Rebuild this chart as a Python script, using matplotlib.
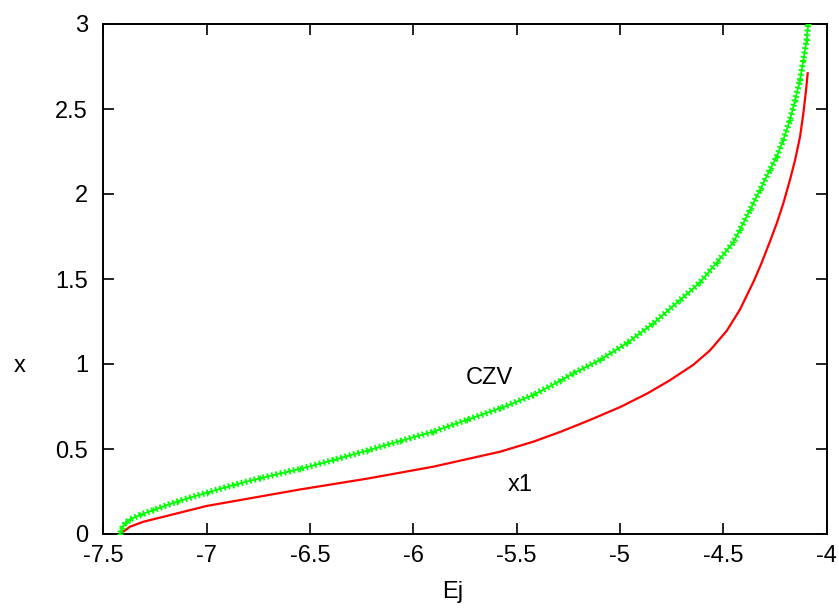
import numpy as np
import matplotlib
matplotlib.use("Agg")
import matplotlib.pyplot as plt
import matplotlib.patheffects as pe

plt.rcParams['font.family'] = ['Liberation Sans', 'DejaVu Sans']

# CZV curve (green)
czv_ej = [-7.420, -7.411, -7.395, -7.371, -7.323, -7.258, -7.145, -7.0, -6.871,
          -6.742, -6.548, -6.387, -6.226, -6.064, -5.903, -5.742, -5.580,
          -5.419, -5.290, -5.226, -5.096, -4.967, -4.838, -4.709, -4.612,
          -4.531, -4.451, -4.419, -4.370, -4.322, -4.274, -4.241, -4.209,
          -4.177, -4.152, -4.128, -4.112, -4.096, -4.089]
czv_x = [0.0, 0.033, 0.063, 0.086, 0.112, 0.141, 0.190, 0.243, 0.288,
         0.328, 0.383, 0.435, 0.490, 0.547, 0.602, 0.671, 0.739,
         0.818, 0.900, 0.945, 1.024, 1.122, 1.239, 1.376, 1.480,
         1.597, 1.715, 1.790, 1.906, 2.024, 2.141, 2.220, 2.318,
         2.435, 2.553, 2.671, 2.788, 2.906, 3.0]

# x1 curve (red)
x1_ej = [-7.415, -7.404, -7.371, -7.307, -7.194, -7.0, -6.790, -6.548, -6.226,
         -5.903, -5.580, -5.419, -5.290, -5.193, -5.129, -5.0, -4.870, -4.757,
         -4.645, -4.564, -4.483, -4.419, -4.351, -4.314, -4.274, -4.241,
         -4.209, -4.177, -4.152, -4.128, -4.112, -4.099, -4.091]
x1_y = [0.0, 0.014, 0.043, 0.072, 0.106, 0.165, 0.210, 0.262, 0.325,
        0.396, 0.484, 0.543, 0.600, 0.647, 0.679, 0.746, 0.825, 0.905,
        0.995, 1.080, 1.195, 1.320, 1.490, 1.595, 1.720, 1.827,
        1.945, 2.082, 2.200, 2.337, 2.475, 2.612, 2.710]

W, H = 839, 608
fig = plt.figure(figsize=(W / 100, H / 100), dpi=100)
ax = fig.add_axes([103.4 / W, 1 - 534 / H, (826.5 - 103.4) / W, (534 - 24) / H])

# dense "+" points drawn as a ticked band along the curve
ax.plot(czv_ej, czv_x, color='#00ff00', lw=1.3, zorder=3,
        path_effects=[pe.TickedStroke(spacing=3.2, angle=90, length=0.5),
                      pe.TickedStroke(spacing=3.2, angle=-90, length=0.5),
                      pe.Normal()])
ax.plot(czv_ej, czv_x, ls='none', marker='+', ms=4, mew=0.9, color='#00ff00', zorder=3)
ax.plot(x1_ej, x1_y, color='#ff0000', lw=1.6, zorder=2)

ax.text(-5.63, 0.92, 'CZV', fontsize=17, ha='center', va='center')
ax.text(-5.48, 0.29, 'x1', fontsize=17, ha='center', va='center')

ax.set_xlim(-7.5, -4)
ax.set_ylim(0, 3)
ax.set_xticks(np.arange(-7.5, -3.99, 0.5))
ax.set_xticklabels(['-7.5', '-7', '-6.5', '-6', '-5.5', '-5', '-4.5', '-4'])
ax.set_yticks(np.arange(0, 3.01, 0.5))
ax.set_yticklabels(['0', '0.5', '1', '1.5', '2', '2.5', '3'])
ax.tick_params(direction='in', length=8, width=1.2, top=True, right=True,
               labelsize=17)
ax.tick_params(axis='x', pad=8)
ax.tick_params(axis='y', pad=11)
for s in ax.spines.values():
    s.set_linewidth(1.4)

fig.text(20 / W, 1 - 366 / H, 'x', fontsize=17, ha='center', va='center')
fig.text(453 / W, 1 - 592 / H, 'Ej', fontsize=17, ha='center', va='center')

fig.savefig('out.png', dpi=100)
